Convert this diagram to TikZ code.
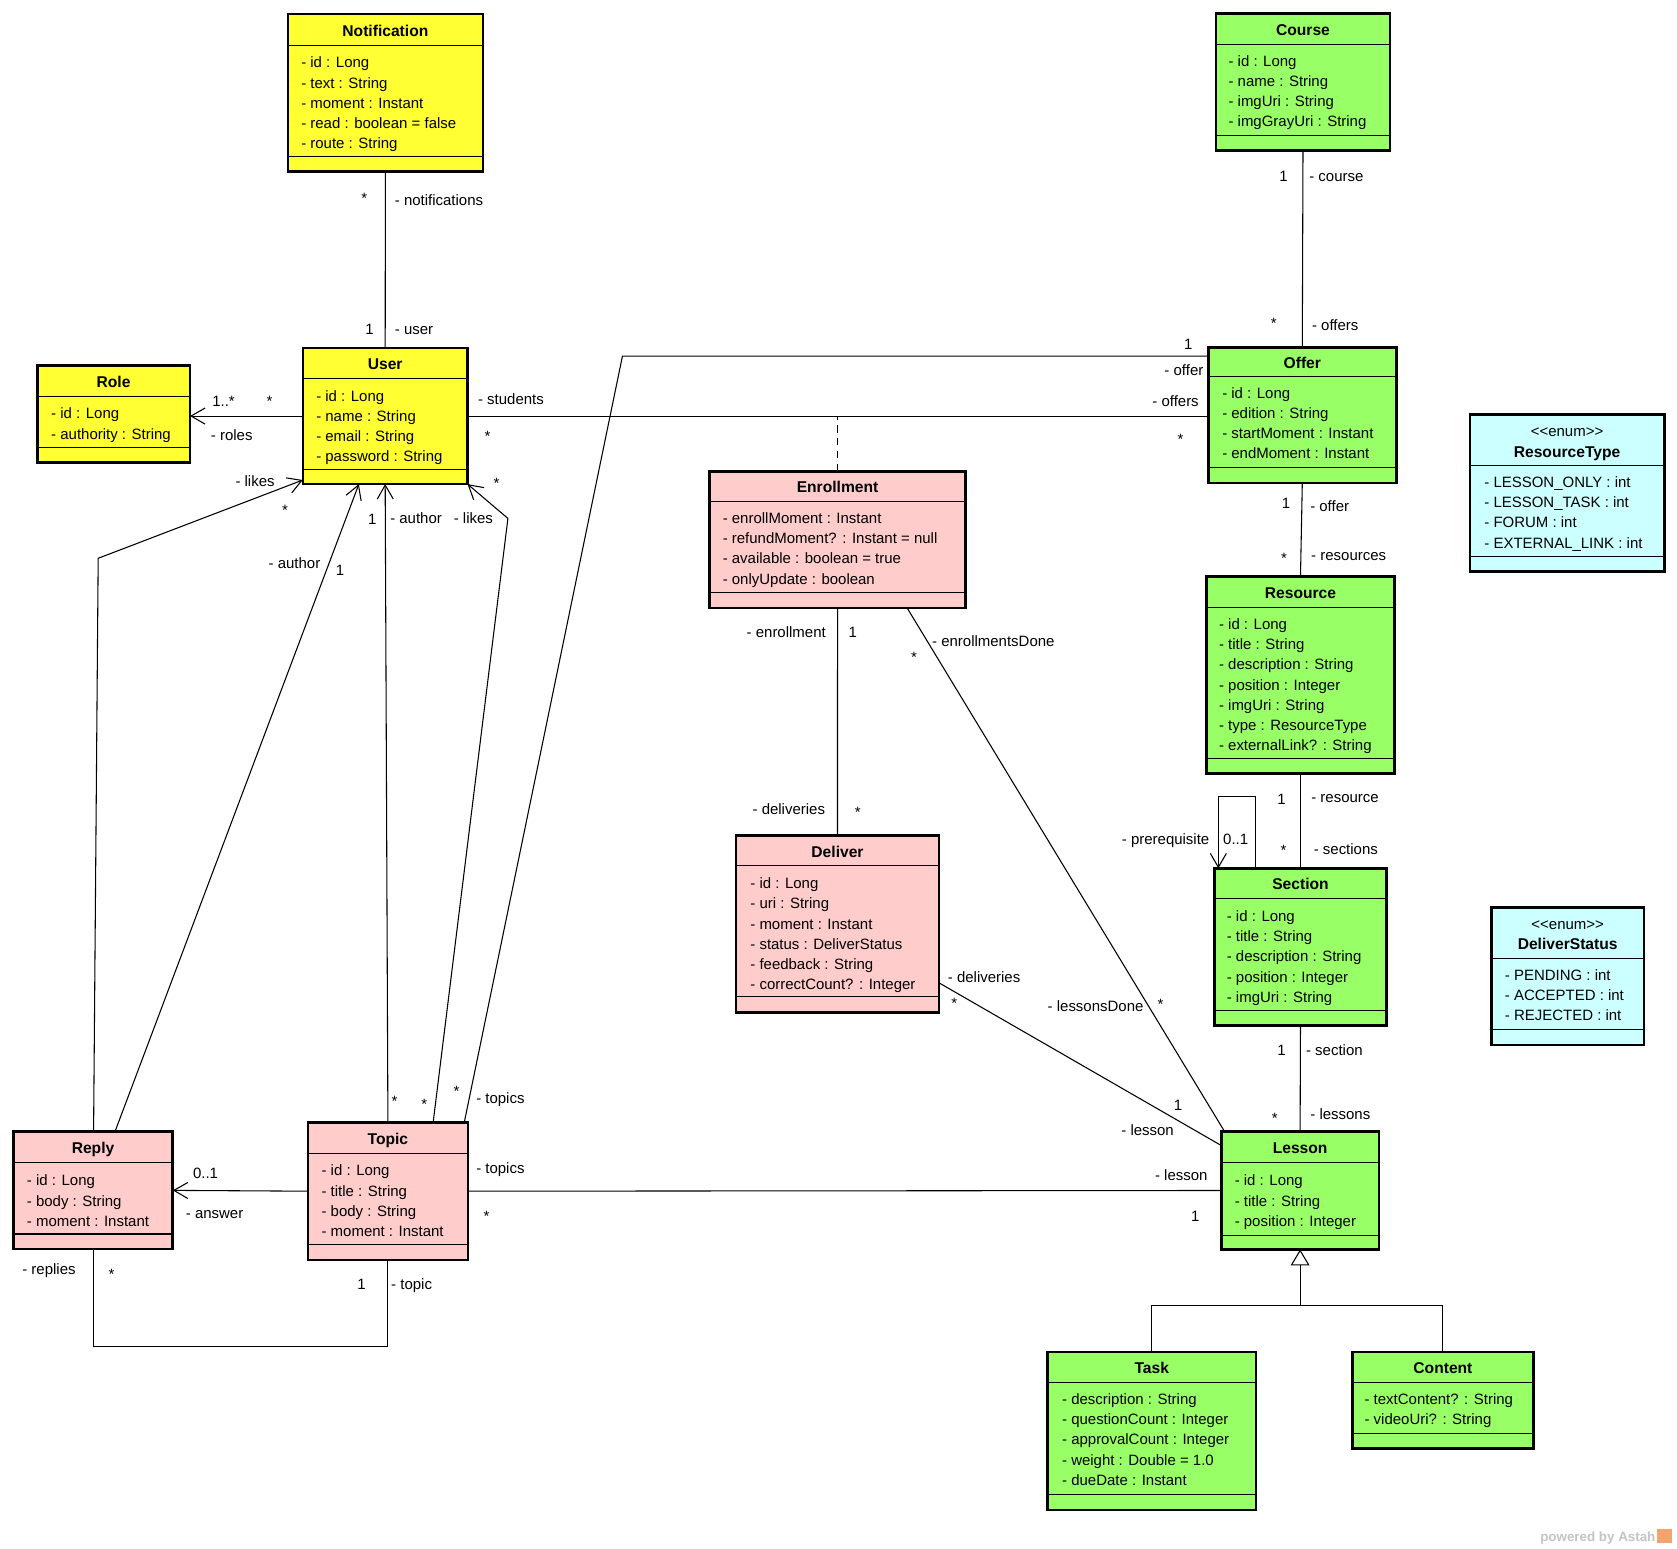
\documentclass[tikz,border=0pt]{standalone}
\usepackage{fontspec}
\setmainfont{Liberation Sans}
\usetikzlibrary{arrows.meta}
\definecolor{cyel}{HTML}{FFFF33}
\definecolor{cgrn}{HTML}{99FF66}
\definecolor{cpnk}{HTML}{FFCCCC}
\definecolor{ccyn}{HTML}{CCFFFF}
\definecolor{wmgray}{HTML}{C4C4C4}
\definecolor{wmorange}{HTML}{F4A46C}
\newcount\labcnt
\tikzset{
 clsbox/.style={draw, line width=2.6pt, inner sep=0pt, outer sep=0pt},
 sepline/.style={line width=1pt},
 conn/.style={line width=1pt},
 nav/.style={-{Straight Barb[length=13pt,width=15pt]}},
 gen/.style={-{Triangle[length=15pt,width=17.6pt,fill=white]}},
 titletext/.style={font=\fontsize{14.6}{17}\selectfont\bfseries, anchor=base, inner sep=0pt},
 attrtext/.style={font=\fontsize{14}{17}\selectfont, anchor=base west, inner sep=0pt},
 lbltext/.style={font=\fontsize{14}{17}\selectfont, inner sep=0pt},
}
% name, left, top, right, bottom, title-sep, attr-sep, fill, title
\newcommand\umlclass[9]{%
  \node[clsbox, fill=#8, minimum width={#4pt-#2pt}, minimum height={#5pt-#3pt}] (#1) at ({(#2+#4)/2},{(#3+#5)/2}) {};
  \draw[sepline] (#1.west |- 0,#6) -- (#1.east |- 0,#6);
  \draw[sepline] (#1.west |- 0,#7) -- (#1.east |- 0,#7);
  \node[titletext] (#1-title) at ({(#2+#4)/2},{(#3+#6)/2+1+5.1}) {#9};
}
\newcommand\attrs[4]{%
  \foreach \txt [count=\i] in {#4} {
    \node[attrtext] (#1-a\i) at (#2,{#3+(\i-1)*18.9+4.8}) {\txt};
  }}
\newcommand\lbl[4]{\global\advance\labcnt by 1\relax
  \node[lbltext, anchor=#1] (lbl\the\labcnt) at (#2,{#3+4.8}) {#4};}
\newcommand\lblstar[2]{\global\advance\labcnt by 1\relax
  \node[lbltext, anchor=base] (lbl\the\labcnt) at (#1,{#2+8}) {*};}

\begin{document}
\begin{tikzpicture}[x=1pt,y=-1pt]
\fill[white] (0,0) rectangle (1568,1448);
\useasboundingbox (0,0) rectangle (1568,1448);

% ---------- classes ----------
\umlclass{notif}{269.2}{13.1}{451.5}{160.5}{42.4}{145.9}{cyel}{Notification}
\attrs{notif}{281.5}{58.6}{- id : Long, - text : String, - moment : Instant, - read : boolean = false, - route : String}

\umlclass{user}{283.2}{325.4}{437.1}{452.6}{353.7}{438.8}{cyel}{User}
\attrs{user}{295.5}{370.3}{- id : Long, - name : String, - email : String, - password : String}

\umlclass{role}{34.7}{341.6}{177.7}{432.6}{370.9}{418.2}{cyel}{Role}
\attrs{role}{47.7}{386.8}{- id : Long, - authority : String}

\umlclass{course}{1136.9}{12.5}{1299.7}{140.6}{41.9}{127}{cgrn}{Course}
\attrs{course}{1148.5}{57.2}{- id : Long, - name : String, - imgUri : String, - imgGrayUri : String}

\umlclass{offer}{1129.6}{324.6}{1305.7}{451.6}{352.1}{437.3}{cgrn}{Offer}
\attrs{offer}{1142.6}{367.5}{- id : Long, - edition : String, - startMoment : Instant, - endMoment : Instant}

\umlclass{rtype}{1374.4}{387.2}{1556}{534.6}{435.5}{519.9}{ccyn}{}
\node[attrtext, anchor=base] (rtype-st) at (1465.2,{403.3+4.8}) {<\kern0pt<enum>\kern0pt>};
\node[titletext] (rtype-name) at (1465.2,{422.2+5.1}) {ResourceType};
\attrs{rtype}{1387.7}{450.9}{- LESSON\_ONLY : int, - LESSON\_TASK : int, - FORUM : int, - EXTERNAL\_LINK : int}

\umlclass{resource}{1127.9}{539.2}{1304}{723.1}{568.2}{709.4}{cgrn}{Resource}
\attrs{resource}{1139.6}{583.8}{- id : Long, - title : String, - description : String, - position : Integer, - imgUri : String, - type : ResourceType, - externalLink? : String}

\umlclass{section}{1135.6}{811.9}{1296.3}{958.7}{840}{945}{cgrn}{Section}
\attrs{section}{1146.9}{856.8}{- id : Long, - title : String, - description : String, - position : Integer, - imgUri : String}

\umlclass{dstatus}{1394.3}{848.4}{1537.2}{977.1}{896}{962.4}{ccyn}{}
\node[attrtext, anchor=base] (dstatus-st) at (1465.75,{864.3+4.8}) {<\kern0pt<enum>\kern0pt>};
\node[titletext] (dstatus-name) at (1465.75,{883+5.1}) {DeliverStatus};
\attrs{dstatus}{1406.9}{911.6}{- PENDING : int, - ACCEPTED : int, - REJECTED : int}

\umlclass{enroll}{663.2}{440.5}{903}{568.5}{468.8}{553.9}{cpnk}{Enrollment}
\attrs{enroll}{675.6}{484.7}{- enrollMoment : Instant, - refundMoment? : Instant = null, - available : boolean = true, - onlyUpdate : boolean}

\umlclass{deliver}{688.2}{781.2}{877.9}{946.5}{809.3}{932}{cpnk}{Deliver}
\attrs{deliver}{701.4}{826.2}{- id : Long, - uri : String, - moment : Instant, - status : DeliverStatus, - feedback : String, - correctCount? : Integer}

\umlclass{lesson}{1141.8}{1058}{1289.4}{1168.2}{1087}{1154.8}{cgrn}{Lesson}
\attrs{lesson}{1154.3}{1104}{- id : Long, - title : String, - position : Integer}

\umlclass{task}{979.5}{1264.2}{1174.3}{1411.9}{1292.5}{1397.2}{cgrn}{Task}
\attrs{task}{992.9}{1308.4}{- description : String, - questionCount : Integer, - approvalCount : Integer, - weight : Double = 1.0, - dueDate : Instant}

\umlclass{content}{1264.3}{1264.2}{1434}{1354.5}{1292.5}{1340.5}{cgrn}{Content}
\attrs{content}{1275.7}{1308.4}{- textContent? : String, - videoUri? : String}

\umlclass{reply}{12.4}{1058.1}{161.6}{1167.9}{1087.1}{1153.8}{cpnk}{Reply}
\attrs{reply}{25}{1104}{- id : Long, - body : String, - moment : Instant}

\umlclass{topic}{287.9}{1049.4}{437.5}{1178.1}{1078.4}{1163.2}{cpnk}{Topic}
\attrs{topic}{300.5}{1094.6}{- id : Long, - title : String, - body : String, - moment : Instant}

% ---------- helper coordinates ----------
\coordinate (obend) at (582,332.9);
\coordinate (ptop) at (1156,744.9);
\coordinate (rbot) at (200,1259.2);
\coordinate (lbend) at (474.9,484.7);
\coordinate (rbend) at (91.8,522);
\coordinate (gj) at (1216,1220.5);

% ---------- connectors ----------
\draw[conn] (notif.south) -- (user.north);
\draw[conn, nav] (user.west) -- (role.east |- user.west);
\draw[conn] (user.east) -- (offer.west |- user.east);
\draw[conn, dash pattern=on 7pt off 5pt] (enroll.north) -- (enroll.north |- user.east);
\draw[conn] (course.south) -- (offer.north);
\draw[conn] ([yshift=-8.3pt]offer.north west) -- (obend) -- ([xshift=-3.4pt]topic.north east);
\draw[conn] (offer.south) -- (resource.north);
\draw[conn] (resource.south) -- (section.north);
\draw[conn, nav] ([xshift=-42.2pt]section.north) -- ([xshift=-42.2pt]section.north |- ptop) -- ([xshift=-76.8pt]section.north |- ptop) -- ([xshift=-76.8pt]section.north);
\draw[conn] (section.south) -- (lesson.north);
\draw[conn] (enroll.south) -- (deliver.north);
\draw[conn] ([xshift=65.1pt]enroll.south) -- ([xshift=3.2pt]lesson.north west);
\draw[conn] ([yshift=27.6pt]deliver.south east) -- ([yshift=-13pt]lesson.north west);
\draw[conn] (topic.east) -- (lesson.west);
\draw[conn, nav] (topic.west) -- (reply.east);
\draw[conn] (reply.south) |- (rbot) -| (topic.south);
\draw[conn, nav] (topic.north) -- (user.south);
\draw[conn, nav] ([xshift=42.3pt]topic.north) -- (lbend) -- (user.south east);
\draw[conn, nav] ([xshift=20.5pt]reply.north) -- ([xshift=-24.6pt]user.south);
\draw[conn, nav] ([xshift=0.5pt]reply.north) -- (rbend) -- ([yshift=3.8pt]user.south west);
\draw[conn] (task.north) |- (gj) -| (content.north);
\draw[conn, gen] (lesson.south |- gj) -- (lesson.south);

% ---------- labels ----------
\lblstar{340.6}{182.3}
\lbl{base west}{369}{187.6}{- notifications}
\lbl{base}{345.6}{307.9}{1}
\lbl{base west}{369}{307.9}{- user}

\lbl{base}{209}{375.6}{1..*}
\lblstar{252}{372.5}
\lbl{base west}{197}{407.4}{- roles}

\lbl{base west}{446.8}{373}{- students}
\lblstar{455.8}{404.6}
\lbl{base east}{1121}{375.7}{- offers}
\lblstar{1103.7}{408}

\lbl{base}{1200}{164.6}{1}
\lbl{base west}{1224}{164.6}{- course}
\lblstar{1191}{298.8}
\lbl{base west}{1226.6}{304.2}{- offers}

\lbl{base}{1111}{322}{1}
\lbl{base east}{1125.3}{346.4}{- offer}
\lblstar{426.8}{1017.6}
\lbl{base west}{445.1}{1027}{- topics}

\lbl{base}{1202.4}{470.6}{1}
\lbl{base west}{1224.9}{473.4}{- offer}
\lblstar{1200.6}{518.9}
\lbl{base west}{1225.8}{519}{- resources}

\lbl{base}{1198.3}{747.1}{1}
\lbl{base west}{1225.9}{745.5}{- resource}
\lblstar{1200}{792.3}
\lbl{base west}{1228.2}{794.1}{- sections}
\lbl{base east}{1130.9}{784.8}{- prerequisite}
\lbl{base west}{1143.5}{784.8}{0..1}

\lbl{base}{1198.3}{981.8}{1}
\lbl{base west}{1221}{981.8}{- section}
\lblstar{1192}{1042}
\lbl{base west}{1225}{1042}{- lessons}

\lbl{base east}{772.3}{591.3}{- enrollment}
\lbl{base}{797.4}{591.3}{1}
\lbl{base east}{771.6}{756.4}{- deliveries}
\lblstar{802}{756.4}

\lbl{base west}{871.4}{599.6}{- enrollmentsDone}
\lblstar{854.6}{611}
\lbl{base east}{1069.3}{940.6}{- lessonsDone}
\lblstar{1085}{936}

\lbl{base west}{886.1}{913.7}{- deliveries}
\lblstar{892.2}{935.1}
\lbl{base}{1101.5}{1033.2}{1}
\lbl{base east}{1097.7}{1057.2}{- lesson}

\lbl{base west}{445.1}{1092.4}{- topics}
\lblstar{454.8}{1134.5}
\lbl{base east}{1129.2}{1099.3}{- lesson}
\lbl{base}{1117.5}{1137}{1}

\lbl{base west}{180.3}{1097}{0..1}
\lbl{base west}{173.6}{1134.5}{- answer}

\lbl{base west}{20.7}{1186.8}{- replies}
\lblstar{104.2}{1188}
\lbl{base}{338}{1200.9}{1}
\lbl{base west}{365.6}{1200.9}{- topic}

\lbl{base}{348}{485.6}{1}
\lbl{base west}{364.7}{484.7}{- author}
\lblstar{369}{1027}

\lbl{base west}{424.1}{484.7}{- likes}
\lblstar{464.2}{448.8}
\lblstar{396.7}{1029.5}

\lbl{base west}{251}{526.7}{- author}
\lbl{base}{317.9}{533.6}{1}

\lbl{base west}{220}{449.7}{- likes}
\lblstar{266.5}{473.7}

% ---------- watermark ----------
\node[font=\fontsize{12.5}{15}\selectfont\bfseries, text=wmgray, anchor=base east, inner sep=0pt] (wm) at (1548,1441.5) {powered by Astah};
\node[fill=wmorange, minimum width=14pt, minimum height=13pt, inner sep=0pt] (wmlogo) at (1556,1436.2) {};
\end{tikzpicture}
\end{document}
